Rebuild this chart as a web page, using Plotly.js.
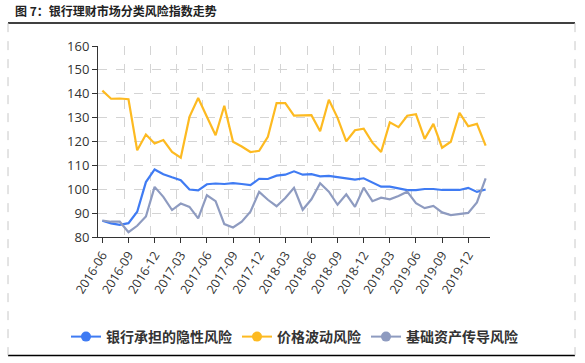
<!DOCTYPE html>
<html>
<head>
<meta charset="utf-8">
<script src="https://cdn.plot.ly/plotly-3.0.1.min.js"></script>
<style>html,body{margin:0;padding:0;background:#fff;}#chart{width:585px;height:363px;}</style>
</head>
<body>
<div id="chart"></div>
<script>
var months = ['2016-06','2016-07','2016-08','2016-09','2016-10','2016-11','2016-12',
  '2017-01','2017-02','2017-03','2017-04','2017-05','2017-06','2017-07','2017-08','2017-09','2017-10','2017-11','2017-12',
  '2018-01','2018-02','2018-03','2018-04','2018-05','2018-06','2018-07','2018-08','2018-09','2018-10','2018-11','2018-12',
  '2019-01','2019-02','2019-03','2019-04','2019-05','2019-06','2019-07','2019-08','2019-09','2019-10','2019-11','2019-12',
  '2020-01','2020-02'];
var tickLabels = ['2016-06','2016-09','2016-12','2017-03','2017-06','2017-09','2017-12','2018-03','2018-06','2018-09','2018-12','2019-03','2019-06','2019-09','2019-12'];
var yTicks = [80, 90, 100, 110, 120, 130, 140, 150, 160];
var seriesNames = ['银行承担的隐性风险', '价格波动风险', '基础资产传导风险'];
var implicitRisk = [86.8,85.7,85.1,85.8,90.6,103,108.3,106.3,105,103.8,99.9,99.5,102.1,102.4,102.2,102.6,102.2,101.7,104.4,104.3,105.7,106.1,107.5,106.1,106.3,105.4,105.6,105.1,104.3,104,104.6,102.9,101.1,101.1,100.3,99.6,99.6,100.1,100.1,99.7,99.7,99.7,100.6,98.9,99.9];
var priceRisk = [141.3,137.9,138,137.7,116.3,122.9,119.2,120.6,115.6,113.2,130.3,138.2,130.4,122.6,135,119.9,117.9,115.6,116.1,122,136.1,136.1,130.8,130.8,131,124.3,137.5,129.9,120.1,124.7,125.4,119.5,115.6,128,126,130.8,131.4,121.1,127.4,117.4,119.9,132,126.4,127.4,118.3];
var assetRisk = [86.9,86.4,86.4,82,84.7,88.6,101,96.8,91.3,94,92.6,87.8,97.5,95,85.4,84,86.4,90.6,98.9,95.6,92.9,96.3,100.6,91.4,95.8,102.5,99,93.5,97.9,92.6,100.7,95,96.5,95.8,97.2,99,94.2,92.1,93,90.3,89.2,89.6,90.1,94.5,104.6];

var colors = ['#3f7bf3', '#fdba21', '#8e9bc0'];
var seriesData = [implicitRisk, priceRisk, assetRisk];

var traces = [];
seriesData.forEach(function (vals, k) {
  traces.push({
    type: 'scatter', mode: 'lines', x: months, y: vals, xaxis: 'x', yaxis: 'y',
    line: {color: colors[k], width: 2.2}, showlegend: false, hoverinfo: 'skip'
  });
});
seriesNames.forEach(function (nm, k) {
  traces.push({
    type: 'scatter', mode: 'lines+markers', x: [null], y: [null], name: nm,
    line: {color: colors[k], width: 2}, marker: {color: colors[k], size: 10},
    showlegend: true
  });
});

// vertical grid at band boundaries every 3 months
var gridPos = [];
for (var i = 3; i <= months.length; i += 3) gridPos.push(i - 0.5);
gridPos.push(months.length - 0.5);

var L = 98, R = 490, T = 46, B = 238;
function px(x) { return (x - L) / (R - L); }
function py(y) { return (B - y) / (B - T); }

var layout = {
  width: 585, height: 363,
  margin: {l: L, r: 585 - R, t: T, b: 363 - B, pad: 0},
  paper_bgcolor: '#ffffff', plot_bgcolor: '#ffffff',
  font: {family: 'Open Sans, Noto Sans CJK SC, sans-serif', color: '#333'},
  title: {
    text: '图 7：银行理财市场分类风险指数走势',
    x: 15 / 585, xref: 'container', xanchor: 'left',
    y: 1 - 12 / 363, yref: 'container', yanchor: 'middle',
    font: {family: 'Noto Sans CJK SC', size: 12, color: '#222', weight: 'bold'}
  },
  xaxis: {
    type: 'category', range: [-0.5, months.length - 0.5],
    tickmode: 'array', tickvals: tickLabels, ticktext: tickLabels,
    tickangle: -58, ticks: 'outside', ticklen: 5, tickcolor: '#333',
    showline: true, linecolor: '#333', linewidth: 1,
    showgrid: false, zeroline: false,
    tickfont: {family: 'Open Sans', size: 12.5, color: '#333'}
  },
  xaxis2: {
    overlaying: 'x', type: 'linear', range: [-0.5, months.length - 0.5],
    tickmode: 'array', tickvals: gridPos, showticklabels: false, ticks: '',
    showgrid: true, gridcolor: '#d4d4d4', griddash: 'dash', gridwidth: 1,
    zeroline: false, showline: false
  },
  yaxis: {
    range: [80, 160], tickmode: 'array', tickvals: yTicks,
    ticks: 'outside', ticklen: 5, tickcolor: '#333',
    showline: true, linecolor: '#333', linewidth: 1,
    showgrid: true, gridcolor: '#d4d4d4', griddash: 'dash', gridwidth: 1,
    zeroline: false,
    tickfont: {family: 'Open Sans', size: 13, color: '#333'}
  },
  legend: {
    orientation: 'h', x: px(66), xanchor: 'left', y: py(337), yanchor: 'middle',
    font: {family: 'Noto Sans CJK SC', size: 14, color: '#333', weight: 'bold'},
    bgcolor: 'rgba(0,0,0,0)', itemclick: false
  },
  shapes: [
    {type: 'line', xref: 'paper', yref: 'paper', x0: px(8), x1: px(575), y0: py(23), y1: py(23), line: {color: '#000', width: 1.5}},
    {type: 'line', xref: 'paper', yref: 'paper', x0: px(8), x1: px(575), y0: py(357), y1: py(357), line: {color: '#000', width: 1.5}},
    {type: 'line', xref: 'paper', yref: 'paper', x0: px(8), x1: px(8), y0: py(23), y1: py(357), line: {color: '#c8c8c8', width: 1, dash: 'dash'}},
    {type: 'line', xref: 'paper', yref: 'paper', x0: px(575), x1: px(575), y0: py(23), y1: py(357), line: {color: '#c8c8c8', width: 1, dash: 'dash'}}
  ]
};

// dummy trace to activate xaxis2 gridlines
traces.push({type: 'scatter', mode: 'none', x: [null], y: [null], xaxis: 'x2', yaxis: 'y', showlegend: false, hoverinfo: 'skip'});

Plotly.newPlot('chart', traces, layout, {staticPlot: true, displayModeBar: false});
</script>
</body>
</html>
